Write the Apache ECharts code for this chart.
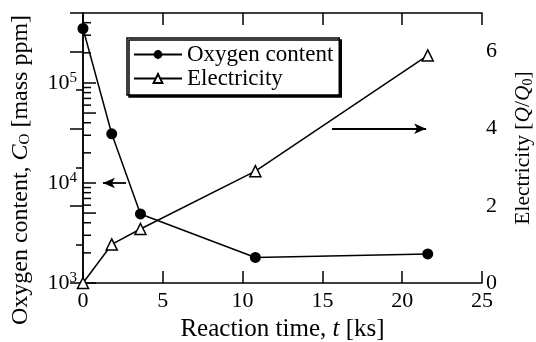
<!DOCTYPE html>
<html>
<head>
<meta charset="utf-8">
<script src="https://cdn.jsdelivr.net/npm/echarts@6/dist/echarts.min.js"></script>
<style>
  html, body { margin: 0; padding: 0; background: #fff; }
  #chart { width: 536px; height: 342px; }
</style>
</head>
<body>
<div id="chart"></div>
<script>
// reaction time [ks]
const time = [0, 1.8, 3.6, 10.8, 21.6];
// oxygen content [mass ppm]
const oxygen = [350000, 31000, 4900, 1800, 1950];
// electricity Q/Q0
const electricity = [0, 1.0, 1.4, 2.9, 5.9];
// minor ticks of the log axis
const logMinor = [2e3, 3e3, 4e3, 5e3, 6e3, 7e3, 8e3, 9e3,
  2e4, 3e4, 4e4, 5e4, 6e4, 7e4, 8e4, 9e4, 2e5, 3e5, 4e5];
// arrows pointing to the axes
const leftArrow = [[2.7, 10000], [1.25, 10000]];
const rightArrow = [[15.6, 4], [21.5, 4]];

const FONT = '"Liberation Serif", "DejaVu Serif", serif';
const black = '#000';

const chart = echarts.init(document.getElementById('chart'));

const axisLine = { show: true, lineStyle: { color: black, width: 1.5 } };
const label = { color: black, fontFamily: FONT, fontSize: 22 };
const nameStyle = { color: black, fontFamily: FONT, fontSize: 25 };
const italic = (size) => ({ fontFamily: FONT, fontSize: size, fontStyle: 'italic', color: black });
const sub = (size) => ({ fontFamily: FONT, fontSize: size, color: black, verticalAlign: 'bottom', padding: [9, 0, 0, 0] });

chart.setOption({
  animation: false,
  grid: { left: 83, right: 54, top: 13, bottom: 59, outerBoundsMode: 'none' },
  legend: {
    orient: 'vertical',
    left: 127,
    top: 38,
    itemWidth: 48,
    itemHeight: 11,
    itemGap: 1,
    padding: [5, 6, 5, 6],
    borderColor: black,
    borderWidth: 1.5,
    borderRadius: 0,
    backgroundColor: '#fff',
    shadowColor: black,
    shadowOffsetX: 2,
    shadowOffsetY: 2,
    shadowBlur: 0,
    textStyle: { color: black, fontFamily: FONT, fontSize: 23 },
    data: ['Oxygen content', 'Electricity']
  },
  xAxis: [{
    type: 'value',
    min: 0,
    max: 25,
    interval: 5,
    axisLine,
    axisTick: { inside: true, length: 12, lineStyle: { color: black, width: 1.5 } },
    axisLabel: { ...label, margin: 7 },
    splitLine: { show: false },
    name: 'Reaction time, {i|t} [ks]',
    nameLocation: 'middle',
    nameGap: 30,
    nameTextStyle: { ...nameStyle, rich: { i: italic(25) } }
  }, {
    type: 'value',
    position: 'top',
    min: 0,
    max: 25,
    interval: 5,
    axisLine,
    axisTick: { inside: true, length: 12, lineStyle: { color: black, width: 1.5 } },
    axisLabel: { show: false },
    splitLine: { show: false }
  }],
  yAxis: [{
    type: 'log',
    logBase: 10,
    min: 1000,
    max: 500000,
    axisLine,
    axisTick: { inside: true, length: 13, lineStyle: { color: black, width: 1.5 } },
    axisLabel: {
      ...label,
      margin: 6,
      showMaxLabel: false,
      formatter: (v) => '10{s|' + Math.round(Math.log10(v)) + '}',
      rich: { s: { fontFamily: FONT, fontSize: 15, color: black, verticalAlign: 'top', padding: [0, 0, 10, 0] } }
    },
    splitLine: { show: false },
    name: 'Oxygen content, {i|C}{sub|O} [mass ppm]',
    nameLocation: 'middle',
    nameRotate: 90,
    nameGap: 50,
    nameTextStyle: { ...nameStyle, fontSize: 24, padding: [0, 44, 0, 0], rich: { i: italic(24), sub: sub(15) } }
  }, {
    type: 'value',
    position: 'right',
    min: 0,
    max: 7,
    interval: 2,
    axisLine,
    axisTick: { inside: true, length: 13, lineStyle: { color: black, width: 1.5 } },
    minorTick: { show: true, splitNumber: 2, length: 7, lineStyle: { color: black, width: 1.5 } },
    axisLabel: { ...label, margin: 4, showMaxLabel: false },
    splitLine: { show: false },
    name: 'Electricity [{i|Q}/{i|Q}{sub|0}]',
    nameLocation: 'middle',
    nameRotate: 90,
    nameGap: 30,
    nameTextStyle: { ...nameStyle, fontSize: 21.5, rich: { i: italic(21.5), sub: sub(14) } }
  }],
  series: [{
    name: 'Oxygen content',
    type: 'line',
    yAxisIndex: 0,
    data: time.map((t, i) => [t, oxygen[i]]),
    symbol: 'circle',
    symbolSize: 11,
    clip: false,
    itemStyle: { color: black },
    lineStyle: { color: black, width: 1.5 },
    markLine: {
      silent: true,
      symbol: ['none', 'arrow'],
      symbolSize: [8, 12],
      label: { show: false },
      lineStyle: { color: black, width: 1.8, type: 'solid' },
      data: [[{ coord: leftArrow[0] }, { coord: leftArrow[1] }]]
    }
  }, {
    name: 'Electricity',
    type: 'line',
    yAxisIndex: 1,
    data: time.map((t, i) => [t, electricity[i]]),
    symbol: 'triangle',
    symbolSize: 11,
    clip: false,
    itemStyle: { color: '#fff', borderColor: black, borderWidth: 1.5 },
    lineStyle: { color: black, width: 1.5 },
    markLine: {
      silent: true,
      symbol: ['none', 'arrow'],
      symbolSize: [8, 12],
      label: { show: false },
      lineStyle: { color: black, width: 1.8, type: 'solid' },
      data: [[{ coord: rightArrow[0] }, { coord: rightArrow[1] }]]
    }
  }, {
    name: 'logMinor',
    type: 'custom',
    yAxisIndex: 0,
    silent: true,
    data: logMinor.map((v) => [0, v]),
    renderItem: (params, api) => {
      const v = api.value(1);
      const p = api.coord([0, v]);
      const m = Math.round(v / Math.pow(10, Math.floor(Math.log10(v) + 1e-9)));
      const len = m === 5 ? 13 : 8;
      return {
        type: 'line',
        shape: { x1: p[0], y1: p[1], x2: p[0] + len, y2: p[1] },
        style: { stroke: black, lineWidth: 1.5 }
      };
    }
  }]
});
</script>
</body>
</html>
